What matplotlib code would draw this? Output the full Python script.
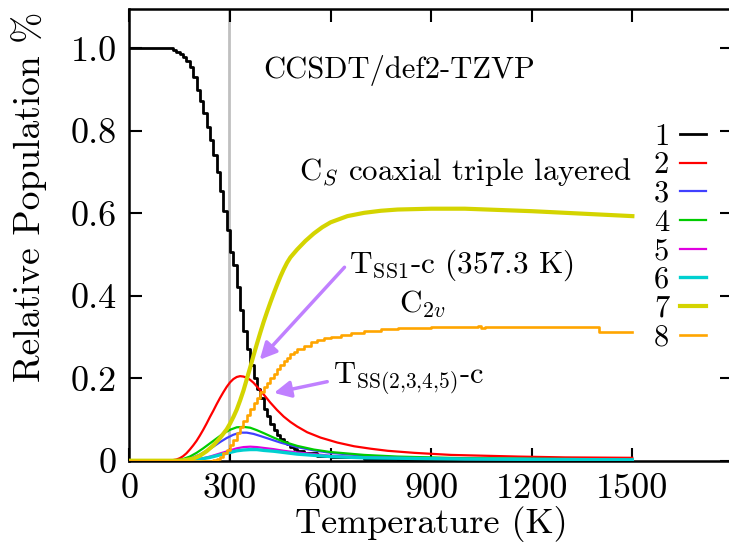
import numpy as np
import matplotlib
matplotlib.use('Agg')
import matplotlib.pyplot as plt

plt.rcParams['font.family'] = 'cmr10'
plt.rcParams['mathtext.fontset'] = 'cm'
plt.rcParams['axes.unicode_minus'] = False

# structure 1 (step like, noisy)
T1 = [0, 120, 130, 140, 150, 160, 170, 180, 190, 200, 210, 220, 230, 240, 250, 260, 270, 280, 290, 300,
      310, 320, 330, 340, 350, 360, 370, 380, 390, 400, 410, 420, 430, 440, 450, 460, 470, 480, 490, 500,
      520, 560, 600, 700, 800, 1000, 1500]
P1 = [1.0, 1.0, 0.995, 0.99, 0.985, 0.978, 0.97, 0.955, 0.93, 0.9, 0.872, 0.842, 0.81, 0.777, 0.74, 0.70, 0.655, 0.605, 0.56, 0.505,
      0.475, 0.42, 0.365, 0.315, 0.27, 0.232, 0.2, 0.175, 0.152, 0.125, 0.108, 0.088, 0.074, 0.062, 0.053, 0.046, 0.04, 0.033, 0.028, 0.024,
      0.018, 0.012, 0.008, 0.004, 0.002, 0.001, 0.0]

T2 = [0, 120, 140, 150, 160, 170, 180, 190, 200, 210, 220, 230, 240, 250, 260, 270, 280, 290, 300, 310, 320, 330,
      340, 350, 360, 370, 380, 390, 400, 420, 440, 460, 480, 500, 530, 570, 620, 670, 720, 770, 850, 960, 1060,
      1160, 1300, 1500]
P2 = [0, 0, 0.003, 0.006, 0.011, 0.018, 0.027, 0.037, 0.048, 0.061, 0.075, 0.09, 0.106, 0.121, 0.137, 0.152, 0.166, 0.179, 0.19, 0.198, 0.203, 0.205,
      0.204, 0.201, 0.196, 0.189, 0.18, 0.171, 0.161, 0.141, 0.123, 0.107, 0.094, 0.083, 0.069, 0.056, 0.044, 0.035, 0.029, 0.024, 0.019, 0.014, 0.012,
      0.01, 0.008, 0.007]

T3 = [0, 130, 150, 170, 190, 210, 230, 250, 270, 290, 310, 330, 350, 370, 390, 420, 450, 500, 550, 600, 700, 800, 1000, 1500]
P3 = [0, 0, 0.001, 0.003, 0.008, 0.015, 0.024, 0.034, 0.045, 0.055, 0.063, 0.068, 0.068, 0.065, 0.06, 0.052, 0.044, 0.033, 0.025, 0.019, 0.012, 0.008, 0.005, 0.003]

T4 = [0, 120, 140, 160, 180, 200, 220, 240, 260, 280, 300, 320, 340, 360, 380, 400, 430, 460, 500, 550, 600, 700, 800, 1000, 1500]
P4 = [0, 0, 0.001, 0.004, 0.01, 0.019, 0.03, 0.042, 0.054, 0.066, 0.075, 0.081, 0.082, 0.08, 0.074, 0.067, 0.056, 0.046, 0.036, 0.027, 0.021, 0.014, 0.01, 0.006, 0.003]

T5 = [0, 160, 180, 200, 220, 240, 260, 280, 300, 320, 340, 360, 380, 400, 430, 460, 500, 600, 700, 1000, 1500]
P5 = [0, 0, 0.001, 0.003, 0.006, 0.01, 0.015, 0.02, 0.025, 0.03, 0.033, 0.034, 0.033, 0.031, 0.028, 0.024, 0.02, 0.012, 0.008, 0.004, 0.002]

T6 = [0, 160, 180, 200, 220, 240, 260, 280, 300, 320, 340, 360, 380, 400, 430, 460, 500, 600, 700, 1000, 1500]
P6 = [0, 0, 0.001, 0.002, 0.005, 0.008, 0.012, 0.016, 0.02, 0.024, 0.026, 0.027, 0.027, 0.025, 0.023, 0.02, 0.016, 0.01, 0.007, 0.004, 0.002]

T7 = [0, 150, 170, 190, 210, 230, 250, 270, 290, 300, 310, 320, 330, 340, 350, 360, 370, 380, 390, 400, 410,
      420, 430, 440, 450, 460, 470, 480, 500, 525, 550, 575, 600, 650, 700, 750, 800, 900, 1000, 1100, 1200,
      1300, 1400, 1500]
P7 = [0, 0, 0.002, 0.005, 0.012, 0.023, 0.037, 0.055, 0.076, 0.09, 0.106, 0.124, 0.146, 0.17, 0.198, 0.226, 0.255, 0.283, 0.31, 0.336, 0.36,
      0.383, 0.405, 0.426, 0.446, 0.464, 0.48, 0.493, 0.512, 0.533, 0.551, 0.566, 0.578, 0.593, 0.601, 0.606, 0.609, 0.611, 0.611, 0.608, 0.605,
      0.601, 0.597, 0.593]

T8 = [0, 240, 250, 260, 270, 280, 290, 300, 310, 320, 330, 340, 350, 360, 370, 380, 390, 400, 410, 420, 430, 440,
      450, 460, 470, 480, 490, 500, 520, 540, 560, 580, 600, 630, 660, 700, 750, 800, 900, 1000, 1040, 1050, 1060,
      1100, 1200, 1300, 1390, 1400, 1500]
P8 = [0, 0, 0.002, 0.005, 0.01, 0.018, 0.027, 0.038, 0.05, 0.066, 0.082, 0.097, 0.112, 0.126, 0.14, 0.152, 0.166, 0.178, 0.188, 0.2, 0.21, 0.222,
      0.233, 0.242, 0.25, 0.258, 0.264, 0.27, 0.278, 0.287, 0.293, 0.297, 0.30, 0.305, 0.309, 0.315, 0.319, 0.322, 0.323, 0.323, 0.326, 0.322, 0.324,
      0.323, 0.323, 0.323, 0.323, 0.312, 0.312]

room_T = 298.15

xticks = [0, 300, 600, 900, 1200, 1500]
yticks = [0, 0.2, 0.4, 0.6, 0.8, 1.0]
ytick_labels = ['0', '0.2', '0.4', '0.6', '0.8', '1.0']

fig = plt.figure(figsize=(7.29, 5.52), dpi=100)
ax = fig.add_axes([0.1776, 0.1654, 0.8278, 0.8174])

ax.axvline(room_T, color='#c0c0c0', lw=2, zorder=1)

ax.plot(T1, P1, color='black', lw=2, drawstyle='steps-post', label='1', zorder=3)
ax.plot(T2, P2, color='#ff0000', lw=1.6, label='2', zorder=3)
ax.plot(T3, P3, color='#4040ff', lw=1.6, label='3', zorder=3)
ax.plot(T4, P4, color='#00cc00', lw=1.6, label='4', zorder=3)
ax.plot(T5, P5, color='#e000e0', lw=1.6, label='5', zorder=3)
ax.plot(T6, P6, color='#00d0d0', lw=2.4, label='6', zorder=3)
ax.plot(T7, P7, color='#d4d400', lw=3, label='7', zorder=3)
ax.plot(T8, P8, color='#ffa500', lw=1.9, drawstyle='steps-post', label='8', zorder=3)

ax.set_xlim(0, 1800)
ax.set_ylim(0, 1.094)
ax.set_xticks(xticks)
ax.set_xticklabels([str(t) for t in xticks])
ax.set_yticks(yticks)
ax.set_yticklabels(ytick_labels)
ax.tick_params(direction='in', length=9.5, width=1.5, top=True, right=True, labelsize=26)
ax.tick_params(axis='x', pad=9)
ax.tick_params(axis='y', pad=9)
for s in ax.spines.values():
    s.set_linewidth(1.8)

ax.set_xlabel('Temperature (K)', fontsize=26)
ax.set_ylabel('Relative Population %', fontsize=27)
ax.xaxis.set_label_coords(0.5, -0.1)
ax.yaxis.set_label_coords(-0.137, 0.584)

# annotations
ax.text(400, 0.928, 'CCSDT/def2-TZVP', fontsize=22)
ax.text(505, 0.68, r'C$_S$ coaxial triple layered', fontsize=22.2)
ax.text(655, 0.456, r'T$_{\mathrm{SS}1}$-c (357.3 K)', fontsize=22.5)
ax.text(805, 0.36, r'C$_{2v}$', fontsize=22.5)
ax.text(606, 0.188, r'T$_{\mathrm{SS}(2{,}3{,}4{,}5)}$-c', fontsize=22)
arrow_color = '#c080ff'
ax.annotate('', xy=(383, 0.24), xytext=(647, 0.474),
            arrowprops=dict(arrowstyle='-|>', color=arrow_color, lw=2.5, mutation_scale=25))
ax.annotate('', xy=(423, 0.163), xytext=(598, 0.193),
            arrowprops=dict(arrowstyle='-|>', color=arrow_color, lw=2.5, mutation_scale=25))

ax.legend(loc='upper left', bbox_to_anchor=(0.869, 0.748), frameon=False, fontsize=22,
          markerfirst=False, handlelength=0.85, handletextpad=0.35, labelspacing=0.04,
          borderpad=0, borderaxespad=0)

fig.savefig('out.png', dpi=100)
